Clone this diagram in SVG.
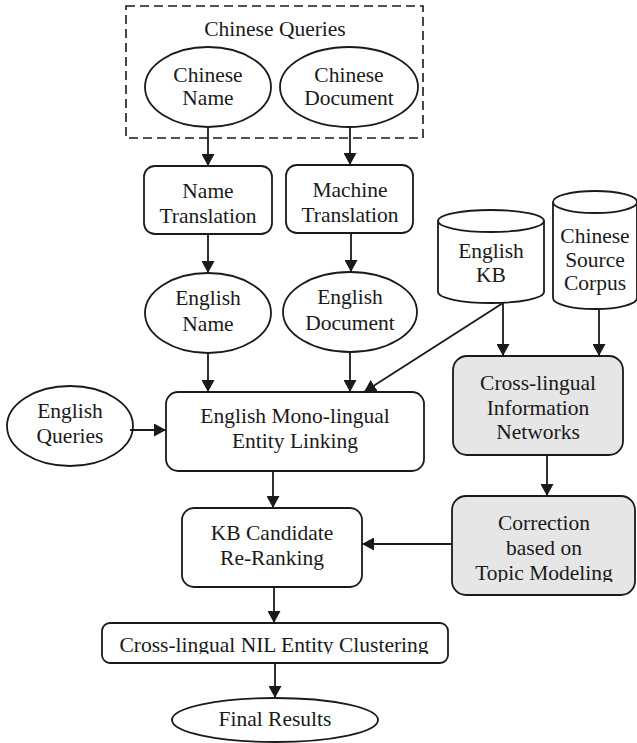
<svg xmlns="http://www.w3.org/2000/svg" width="637" height="743" viewBox="0 0 637 743">
<style>
text{font-family:"Liberation Serif","Times New Roman",serif;font-size:21.5px;fill:#1a1a1a;text-anchor:middle}
.s{fill:#fff;stroke:#1a1a1a;stroke-width:1.8}
.g{fill:#e6e6e6;stroke:#1a1a1a;stroke-width:1.8}
.c{fill:none;stroke:#1a1a1a;stroke-width:1.8}
</style>
<defs>
<marker id="ah" markerUnits="userSpaceOnUse" markerWidth="13" markerHeight="13" refX="12" refY="6.5" orient="auto">
<path d="M0,0 L12,6.5 L0,13 z" fill="#1a1a1a"/>
</marker>
<clipPath id="clipTopic"><rect x="440" y="480" width="197" height="102"/></clipPath>
<clipPath id="clipNil"><rect x="100" y="620" width="360" height="34"/></clipPath>
</defs>
<g id="chinese-queries">
<rect x="126" y="6" width="297" height="132" fill="none" stroke="#1a1a1a" stroke-width="1.6" stroke-dasharray="9,5"/>
<text x="275" y="36">Chinese Queries</text>
</g>
<g id="chinese-name">
<ellipse class="s" cx="208" cy="87" rx="63" ry="40"/>
<text x="208" y="82">Chinese</text><text x="208" y="105">Name</text>
</g>
<g id="chinese-document">
<ellipse class="s" cx="349" cy="87" rx="69" ry="40"/>
<text x="349" y="82">Chinese</text><text x="349" y="105">Document</text>
</g>
<g id="name-translation">
<rect class="s" x="144" y="166" width="128" height="68" rx="11"/>
<text x="208" y="198">Name</text><text x="208" y="223">Translation</text>
</g>
<g id="machine-translation">
<rect class="s" x="286" y="165" width="127" height="68" rx="11"/>
<text x="350" y="197">Machine</text><text x="350" y="222">Translation</text>
</g>
<g id="english-name">
<ellipse class="s" cx="208" cy="313" rx="63" ry="40"/>
<text x="208" y="305">English</text><text x="208" y="331">Name</text>
</g>
<g id="english-document">
<ellipse class="s" cx="350" cy="312" rx="67" ry="40"/>
<text x="350" y="304">English</text><text x="350" y="330">Document</text>
</g>
<g id="english-kb">
<path class="s" d="M438,221 L438,292 A53,11 0 0 0 544,292 L544,221 A53,11 0 0 0 438,221 Z"/>
<path class="c" d="M438,221 A53,11 0 0 0 544,221"/>
<text x="491" y="258">English</text><text x="491" y="282">KB</text>
</g>
<g id="chinese-source-corpus">
<path class="s" d="M553,202 L553,298 A42,11 0 0 0 637,298 L637,202 A42,11 0 0 0 553,202 Z"/>
<path class="c" d="M553,202 A42,11 0 0 0 637,202"/>
<text x="595" y="243">Chinese</text><text x="595" y="267">Source</text><text x="595" y="290">Corpus</text>
</g>
<g id="english-queries">
<ellipse class="s" cx="70" cy="426" rx="63" ry="40"/>
<text x="70" y="418">English</text><text x="70" y="443">Queries</text>
</g>
<g id="mono-linking">
<rect class="s" x="166" y="392" width="258" height="79" rx="12"/>
<text x="295" y="423">English Mono-lingual</text><text x="295" y="448">Entity Linking</text>
</g>
<g id="cross-lingual-networks">
<rect class="g" x="453" y="356" width="170" height="99" rx="14"/>
<text x="538" y="390">Cross-lingual</text><text x="538" y="415">Information</text><text x="538" y="439">Networks</text>
</g>
<g id="kb-reranking">
<rect class="s" x="182" y="508" width="180" height="79" rx="12"/>
<text x="272" y="540">KB Candidate</text><text x="272" y="565">Re-Ranking</text>
</g>
<g id="topic-correction">
<rect class="g" x="452" y="496" width="183" height="99" rx="14"/>
<text x="544" y="530">Correction</text><text x="544" y="555">based on</text>
<text x="544" y="580" clip-path="url(#clipTopic)">Topic Modeling</text>
</g>
<g id="nil-clustering">
<rect class="s" x="102" y="623" width="346" height="40" rx="8"/>
<text x="274" y="652" clip-path="url(#clipNil)">Cross-lingual NIL Entity Clustering</text>
</g>
<g id="final-results">
<ellipse class="s" cx="275" cy="720" rx="103" ry="22"/>
<text x="275" y="726">Final Results</text>
</g>
<g id="connectors" class="c" marker-end="url(#ah)">
<line x1="208" y1="127" x2="208" y2="166" marker-end="url(#ah)"/>
<line x1="350" y1="127" x2="350" y2="165" marker-end="url(#ah)"/>
<line x1="208" y1="234" x2="208" y2="273" marker-end="url(#ah)"/>
<line x1="351" y1="233" x2="351" y2="272" marker-end="url(#ah)"/>
<line x1="208" y1="353" x2="208" y2="392" marker-end="url(#ah)"/>
<line x1="350" y1="352" x2="350" y2="392" marker-end="url(#ah)"/>
<line x1="503" y1="303" x2="364" y2="392" marker-end="url(#ah)"/>
<line x1="503" y1="303" x2="503" y2="356" marker-end="url(#ah)"/>
<line x1="599" y1="309" x2="599" y2="356" marker-end="url(#ah)"/>
<line x1="130" y1="430" x2="166" y2="430" marker-end="url(#ah)"/>
<line x1="273" y1="471" x2="273" y2="508" marker-end="url(#ah)"/>
<line x1="547" y1="455" x2="547" y2="496" marker-end="url(#ah)"/>
<line x1="452" y1="544" x2="362" y2="544" marker-end="url(#ah)"/>
<line x1="274" y1="587" x2="274" y2="623" marker-end="url(#ah)"/>
<line x1="275" y1="663" x2="275" y2="698" marker-end="url(#ah)"/>
</g>
</svg>
